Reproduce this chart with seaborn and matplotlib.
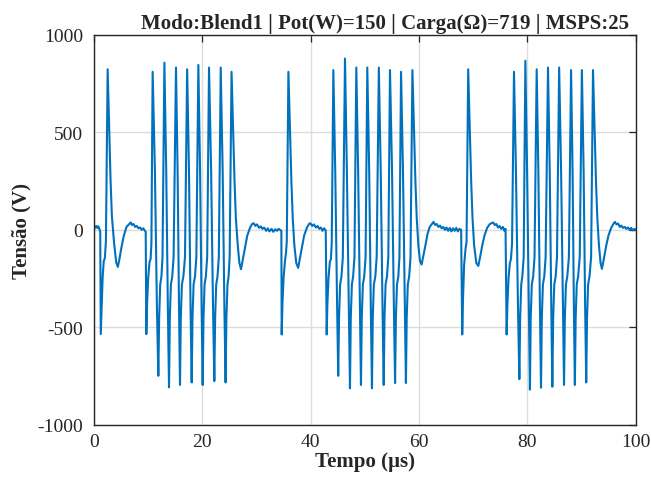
import numpy as np
import pandas as pd
import matplotlib
matplotlib.use("Agg")
import matplotlib.pyplot as plt
import seaborn as sns

# ---------------------------------------------------------------------
# waveform vertices (time in us, voltage in V)
# ---------------------------------------------------------------------

# idle + single pulse 1
t_a = [0.0, 0.2, 0.4, 0.6, 0.8, 1.0, 1.15, 1.25, 1.45, 1.6, 1.8, 2.0, 2.2, 2.52,
       2.8, 3.05, 3.3, 3.7, 4.1, 4.4, 4.7, 5.0, 5.5, 6.0, 6.5, 6.8, 7.0, 7.3,
       7.6, 7.9, 8.2, 8.5, 8.8, 9.1, 9.4, 9.55]
v_a = [0, 15, 20, 10, 18, 5, -10, -535, -372, -240, -160, -145, -60, 824,
       516, 260, 72, -65, -167, -190, -150, -100, -31, 15, 30, 38, 25, 30,
       15, 20, 8, 12, 0, 8, -5, -10]

# burst 1
t_b = [9.66, 9.8, 10.0, 10.25, 10.45, 10.6,
       10.83, 11.25, 11.62, 11.88, 12.03, 12.23, 12.45, 12.65,
       13.0, 13.34, 13.64, 13.85, 14.0, 14.2, 14.45, 14.7,
       15.14, 15.44, 15.7, 15.88, 16.03, 16.23, 16.5, 16.8,
       17.2, 17.54, 17.83, 18.04, 18.19, 18.39, 18.65, 18.9,
       19.27, 19.59, 19.87, 20.07, 20.22, 20.42, 20.65, 20.9,
       21.24, 21.63, 21.98, 22.22, 22.37, 22.57, 22.8, 23.05,
       23.4, 23.76, 24.08, 24.3, 24.45, 24.65, 24.85, 25.05,
       25.4]
v_b = [-535, -380, -250, -165, -150, -70,
       811, 300, -400, -749, -450, -280, -240, -140,
       858, 300, -400, -808, -450, -280, -240, -140,
       833, 300, -400, -796, -450, -280, -240, -140,
       824, 300, -400, -783, -450, -280, -240, -140,
       846, 300, -400, -796, -450, -280, -240, -140,
       833, 300, -400, -776, -450, -280, -240, -140,
       833, 300, -400, -783, -450, -280, -240, -140,
       811]

# recovery + single pulse 2
t_c = [25.7, 25.95, 26.2, 26.55, 26.85, 27.15, 27.5, 27.9, 28.3, 28.8, 29.2,
       29.5, 29.8, 30.1, 30.5, 30.8, 31.1, 31.4, 31.8, 32.1, 32.4, 32.8, 33.1,
       33.5, 33.8, 34.1, 34.5, 34.6,
       34.66, 34.8, 35.0, 35.25, 35.45, 35.6, 35.9,
       36.2, 36.45, 36.7, 37.0, 37.35, 37.7, 38.0, 38.4, 38.8, 39.3, 39.7,
       39.95, 40.3, 40.6, 41.0, 41.3, 41.6, 41.9, 42.2, 42.5, 42.8]
v_c = [500, 250, 60, -80, -170, -202, -150, -90, -30, 10, 30,
       34, 20, 28, 10, 18, 5, 12, -5, 8, -8, 5, -10,
       3, -5, 5, -3, -5,
       -537, -380, -250, -165, -120, -60, 811,
       500, 250, 60, -80, -170, -195, -150, -90, -30, 10, 30,
       34, 20, 28, 12, 20, 5, 12, -5, 8, -3]

# burst 2
t_d = [42.97, 43.1, 43.3, 43.55, 43.75, 43.9,
       44.2, 44.55, 44.9, 45.1, 45.25, 45.45, 45.7, 45.95,
       46.35, 46.7, 47.05, 47.27, 47.42, 47.62, 47.85, 48.1,
       48.44, 48.78, 49.1, 49.3, 49.45, 49.65, 49.9, 50.15,
       50.47, 50.82, 51.12, 51.33, 51.48, 51.68, 51.95, 52.2,
       52.6, 52.95, 53.28, 53.5, 53.65, 53.85, 54.1, 54.35,
       54.66, 55.04, 55.38, 55.6, 55.75, 55.95, 56.2, 56.4,
       56.7, 57.06, 57.4, 57.6, 57.75, 57.95, 58.2, 58.45,
       58.8]
v_d = [-537, -380, -250, -165, -150, -70,
       820, 300, -400, -749, -450, -280, -240, -140,
       879, 300, -400, -813, -450, -280, -240, -140,
       833, 300, -400, -796, -450, -280, -240, -140,
       833, 300, -400, -813, -450, -280, -240, -140,
       833, 300, -400, -796, -450, -280, -240, -140,
       820, 300, -400, -786, -450, -280, -240, -140,
       811, 300, -400, -786, -450, -280, -240, -140,
       820]

# recovery + single pulse 3
t_e = [59.1, 59.35, 59.6, 59.9, 60.2, 60.5, 60.85, 61.2, 61.6, 62.0, 62.4,
       62.7, 63.0, 63.3, 63.6, 63.9, 64.2, 64.5, 64.8, 65.1, 65.4, 65.7, 66.0,
       66.3, 66.6, 66.9, 67.2, 67.5, 67.8,
       68.0, 68.15, 68.35, 68.6, 68.8, 69.1,
       69.4, 69.65, 69.9, 70.2, 70.6, 70.97, 71.3, 71.7, 72.1, 72.6, 73.1,
       73.7, 74.0, 74.3, 74.6, 74.9, 75.2, 75.5, 75.8, 76.0]
v_e = [500, 250, 60, -80, -160, -178, -130, -80, -20, 15, 30,
       41, 25, 30, 15, 22, 8, 15, 0, 12, -5, 10, -8,
       8, -5, 10, -8, 5, 0,
       -537, -350, -180, -100, -60, 824,
       500, 250, 60, -80, -170, -185, -140, -80, -30, 10, 30,
       38, 25, 30, 12, 20, 5, 15, -5, 5]

# burst 3
t_f = [76.2, 76.35, 76.55, 76.8, 77.0, 77.2,
       77.56, 77.92, 78.3, 78.55, 78.7, 78.9, 79.1, 79.35,
       79.66, 79.98, 80.3, 80.5, 80.65, 80.85, 81.1, 81.35,
       81.75, 82.06, 82.35, 82.55, 82.7, 82.9, 83.15, 83.4,
       83.84, 84.16, 84.45, 84.64, 84.8, 85.0, 85.25, 85.5,
       85.9, 86.26, 86.6, 86.8, 86.95, 87.15, 87.4, 87.7,
       88.1, 88.38, 88.62, 88.8, 88.95, 89.15, 89.4, 89.7,
       90.1, 90.42, 90.7, 90.9, 91.05, 91.25, 91.5, 91.8,
       92.15]
v_f = [-537, -380, -250, -170, -150, -70,
       811, 300, -400, -766, -450, -280, -240, -140,
       868, 300, -400, -820, -450, -280, -240, -140,
       824, 300, -400, -810, -450, -280, -240, -140,
       833, 300, -400, -805, -450, -280, -240, -140,
       833, 300, -400, -796, -450, -280, -240, -140,
       820, 300, -400, -796, -450, -280, -240, -140,
       820, 300, -400, -783, -450, -280, -240, -140,
       820]

# final recovery
t_g = [92.45, 92.7, 92.95, 93.25, 93.55, 93.8, 94.15, 94.6, 95.0, 95.5, 95.9,
       96.2, 96.5, 96.8, 97.1, 97.4, 97.7, 98.0, 98.3, 98.6, 98.9, 99.2, 99.5,
       99.8, 100.0]
v_g = [500, 250, 60, -80, -170, -200, -150, -80, -30, 10, 30,
       41, 28, 32, 15, 22, 10, 15, 5, 12, 0, 10, -3,
       5, 0]

x_ticks = [0, 20, 40, 60, 80, 100]
y_ticks = [-1000, -500, 0, 500, 1000]
title = 'Modo:Blend1 | Pot(W)=150 | Carga(Ω)=719 | MSPS:25'

# ---------------------------------------------------------------------

df = pd.DataFrame({
    't': t_a + t_b + t_c + t_d + t_e + t_f + t_g,
    'v': v_a + v_b + v_c + v_d + v_e + v_f + v_g,
})

sns.set_style('white')
plt.rcParams['font.family'] = ['Liberation Serif', 'DejaVu Serif']
plt.rcParams['axes.unicode_minus'] = False

fig = plt.figure(figsize=(6.51, 4.89), dpi=100)
ax = fig.add_axes([0.1444, 0.1294, 0.8318, 0.7970])

sns.lineplot(data=df, x='t', y='v', ax=ax, color='#0072BD', linewidth=1.5,
             estimator=None, sort=False)

ax.set_xlim(0, 100)
ax.set_ylim(-1000, 1000)
ax.set_xticks(x_ticks)
ax.set_yticks(y_ticks)
ax.grid(True, color='#dcdcdc', linewidth=1.0)
ax.set_axisbelow(True)
ax.tick_params(direction='in', length=5, width=0.9, colors='#262626',
               labelsize=14, top=True, right=True, labelcolor='#262626')
ax.tick_params(axis='x', pad=6)
ax.tick_params(axis='y', pad=8)
for s in ax.spines.values():
    s.set_color('#262626')
    s.set_linewidth(1.0)

ax.set_xlabel('Tempo (µs)', fontsize=15, fontweight='bold', labelpad=1)
ax.set_ylabel('Tensão (V)', fontsize=15, fontweight='bold', labelpad=4)
ax.set_title(title, fontsize=15, fontweight='bold', pad=5, x=0.538)

plt.savefig('out.png', dpi=100)
